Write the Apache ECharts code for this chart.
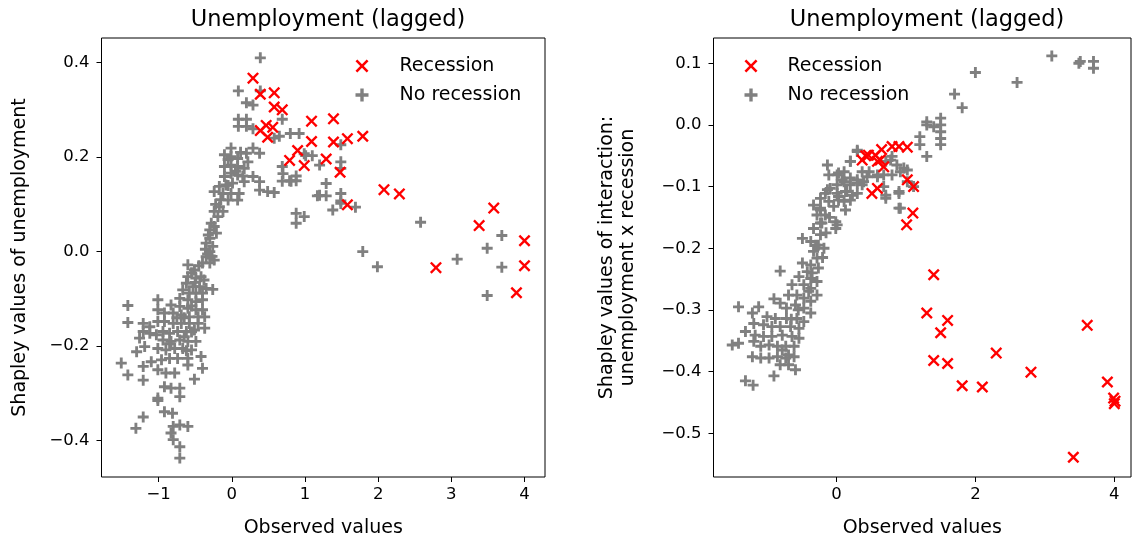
<!DOCTYPE html>
<html>
<head>
<meta charset="utf-8">
<script src="https://cdn.jsdelivr.net/npm/echarts@6/dist/echarts.min.js"></script>
<style>
  html, body { margin: 0; padding: 0; background: #fff; }
  #chart { width: 1134px; height: 537px; }
</style>
</head>
<body>
<div id="chart"></div>
<script>
// tick values
const leftXTicks = [-1, 0, 1, 2, 3, 4]
const leftYTicks = [-0.4, -0.2, 0.0, 0.2, 0.4]
const rightXTicks = [0, 2, 4]
const rightYTicks = [-0.5, -0.4, -0.3, -0.2, -0.1, 0.0, 0.1]

// left panel: Shapley values of unemployment
const leftRecession = [
  [0.29, 0.367], [0.39, 0.333], [0.58, 0.336], [0.58, 0.306], [0.69, 0.300],
  [0.39, 0.256], [0.47, 0.267], [0.56, 0.263], [0.49, 0.242], [1.09, 0.276],
  [1.39, 0.281], [1.09, 0.233], [1.39, 0.232], [1.58, 0.239], [1.79, 0.244],
  [0.90, 0.214], [0.79, 0.193], [0.99, 0.182], [1.29, 0.196], [1.48, 0.168],
  [1.58, 0.099], [2.08, 0.131], [2.29, 0.122], [3.58, 0.092], [3.38, 0.055],
  [4.00, 0.023], [4.00, -0.030], [2.79, -0.034], [3.89, -0.087]
]
const leftNoRecession = [
  [0.39, 0.41], [0.39, 0.34], [0.09, 0.34], [0.20, 0.315], [0.29, 0.31],
  [0.09, 0.28], [0.20, 0.28], [0.09, 0.265], [0.20, 0.265], [0.29, 0.26],
  [0.69, 0.28], [0.80, 0.25], [0.65, 0.244], [0.58, 0.24], [0.92, 0.25],
  [0.99, 0.207], [1.01, 0.203], [1.10, 0.203], [1.49, 0.226], [1.49, 0.19],
  [1.49, 0.176], [1.20, 0.183], [1.29, 0.144], [1.29, 0.118], [1.17, 0.118],
  [1.20, 0.119], [1.49, 0.123], [1.49, 0.102], [1.49, 0.107], [1.38, 0.088],
  [1.69, 0.094], [0.88, 0.081], [0.99, 0.074], [0.88, 0.06], [0.69, 0.18],
  [0.69, 0.149], [0.70, 0.165], [0.79, 0.15], [0.88, 0.16], [0.81, 0.149],
  [0.88, 0.15], [2.58, 0.062], [1.79, 0.0], [1.99, -0.032], [3.08, -0.016],
  [3.49, 0.007], [3.69, 0.034], [3.69, -0.033], [3.49, -0.093],
  [-0.01, 0.219], [-0.10, 0.205], [-0.01, 0.201], [0.08, 0.197], [0.20, 0.208],
  [0.29, 0.219], [0.38, 0.208], [0.22, 0.19], [-0.01, 0.183], [-0.10, 0.18],
  [0.08, 0.18], [0.17, 0.176], [-0.01, 0.166], [0.08, 0.162], [-0.10, 0.159],
  [0.29, 0.159], [0.38, 0.148], [0.17, 0.148], [0.01, 0.145], [-0.08, 0.141],
  [-0.17, 0.138], [-0.24, 0.127], [-0.12, 0.123], [-0.01, 0.123], [0.10, 0.123],
  [0.38, 0.13], [0.49, 0.127], [0.58, 0.125], [0.08, 0.109], [-0.05, 0.109],
  [-0.17, 0.095], [-0.24, 0.085], [-0.12, 0.085], [-0.19, 0.074], [-0.24, 0.053],
  [-0.30, 0.046], [-0.21, 0.039], [-0.30, 0.028], [-0.35, 0.018], [-0.26, 0.011],
  [-0.30, 0.0], [-0.35, -0.011], [-0.24, -0.018], [-0.40, -0.024], [-0.30, -0.024],
  [-0.32, 0.035], [-0.28, 0.06], [-0.22, 0.10], [-0.15, 0.11], [-0.05, 0.14],
  [0.05, 0.17], [-0.05, 0.195], [0.12, 0.21], [0.15, 0.16], [-0.33, -0.005],
  [-0.36, 0.005], [-0.27, -0.01],
  [-0.60, -0.028], [-0.51, -0.039], [-0.60, -0.053], [-0.49, -0.056], [-0.42, -0.053],
  [-0.62, -0.067], [-0.53, -0.074], [-0.44, -0.074], [-0.35, -0.078], [-0.26, -0.08],
  [-0.67, -0.081], [-0.58, -0.088], [-0.49, -0.088], [-0.40, -0.088], [-0.71, -0.099],
  [-0.60, -0.102], [-0.49, -0.106], [-0.40, -0.102], [-1.01, -0.102], [-0.83, -0.113],
  [-0.71, -0.116], [-0.60, -0.12], [-0.49, -0.123], [-0.40, -0.123], [-1.01, -0.123],
  [-0.92, -0.13], [-0.80, -0.13], [-0.69, -0.134], [-0.58, -0.138], [-0.46, -0.138],
  [-0.37, -0.138], [-1.42, -0.114], [-1.42, -0.15], [-1.21, -0.152], [-1.12, -0.159],
  [-1.01, -0.148], [-0.92, -0.148], [-0.80, -0.152], [-0.69, -0.152], [-0.58, -0.152],
  [-0.46, -0.152], [-0.37, -0.162], [-1.21, -0.169], [-1.12, -0.173], [-1.03, -0.176],
  [-0.94, -0.169], [-0.85, -0.173], [-0.74, -0.169], [-0.62, -0.169], [-0.51, -0.166],
  [-1.26, -0.183], [-0.94, -0.187], [-0.83, -0.19], [-0.71, -0.187], [-0.60, -0.19],
  [-0.49, -0.19], [-1.30, -0.212], [-1.19, -0.201], [-1.01, -0.205], [-0.90, -0.208],
  [-0.78, -0.205], [-0.67, -0.205], [-0.55, -0.208], [-1.51, -0.236], [-1.21, -0.243],
  [-1.10, -0.233], [-0.96, -0.229], [-0.85, -0.226], [-0.74, -0.226], [-0.60, -0.226],
  [-0.42, -0.222], [-0.40, -0.247], [-1.42, -0.261], [-1.21, -0.272], [-1.01, -0.25],
  [-0.90, -0.257], [-0.78, -0.257], [-0.60, -0.24], [-0.51, -0.27], [-0.92, -0.286],
  [-0.83, -0.289], [-0.71, -0.289], [-1.01, -0.31], [-1.01, -0.315], [-0.71, -0.307],
  [-1.21, -0.35], [-0.92, -0.339], [-0.81, -0.342], [-1.31, -0.374], [-0.80, -0.37],
  [-0.71, -0.367], [-0.60, -0.37], [-0.80, -0.398], [-0.71, -0.413], [-0.71, -0.437],
  [-0.83, -0.384], [-0.55, -0.045], [-0.45, -0.03], [-0.50, -0.065], [-0.38, -0.06],
  [-0.55, -0.115], [-0.65, -0.14], [-0.75, -0.14], [-0.55, -0.17], [-0.65, -0.18],
  [-0.85, -0.195], [-0.62, -0.21]
]

// right panel: interaction unemployment x recession
const rightRecession = [
  [0.37, -0.057], [0.46, -0.049], [0.56, -0.049], [0.59, -0.059], [0.80, -0.035],
  [0.90, -0.035], [1.02, -0.036], [0.68, -0.068], [0.51, -0.111], [0.59, -0.103],
  [1.02, -0.089], [1.11, -0.100], [1.10, -0.143], [1.01, -0.162], [1.40, -0.243],
  [1.30, -0.305], [1.60, -0.317], [1.50, -0.337], [1.40, -0.382], [1.60, -0.387],
  [1.81, -0.423], [2.10, -0.425], [2.30, -0.370], [2.80, -0.401], [3.61, -0.325],
  [3.90, -0.417], [3.99, -0.443], [4.01, -0.448], [4.00, -0.452], [3.41, -0.539],
  [0.42, -0.050], [0.65, -0.040], [0.63, -0.057]
]
const rightNoRecession = [
  [3.10, 0.112], [3.49, 0.100], [3.51, 0.103], [3.70, 0.103], [3.70, 0.092],
  [2.00, 0.085], [2.60, 0.069], [1.70, 0.050], [1.81, 0.028], [1.50, 0.011],
  [1.50, 0.0], [1.50, -0.011], [1.50, -0.022], [1.50, -0.032], [1.30, 0.0],
  [1.40, -0.003], [1.30, 0.005], [1.20, -0.019], [1.20, -0.032], [1.30, -0.051],
  [0.30, -0.041], [0.20, -0.059], [0.78, -0.057], [0.87, -0.065], [0.97, -0.070],
  [0.68, -0.081], [0.59, -0.084], [0.80, -0.081], [0.47, -0.076], [0.37, -0.076],
  [0.39, -0.092], [0.68, -0.100], [0.71, -0.114], [0.90, -0.108], [0.92, -0.135],
  [1.02, -0.092], [-0.13, -0.065], [-0.11, -0.081], [0.01, -0.081], [0.11, -0.076],
  [0.20, -0.086], [0.30, -0.089], [0.11, -0.092], [0.20, -0.097], [0.01, -0.097],
  [-0.09, -0.103], [0.13, -0.108], [0.23, -0.114], [0.03, -0.116], [-0.16, -0.111],
  [-0.23, -0.119], [-0.11, -0.124], [0.11, -0.124], [-0.23, -0.135], [-0.33, -0.130],
  [-0.28, -0.146], [-0.16, -0.146], [-0.01, -0.157], [-0.01, -0.168], [-0.21, -0.159],
  [-0.33, -0.168], [-0.23, -0.178], [-0.49, -0.184], [-0.37, -0.189], [-0.26, -0.195],
  [-0.18, -0.200], [-0.33, -0.205], [-0.28, -0.216], [-0.37, -0.227], [-0.49, -0.224],
  [-0.81, -0.237], [-0.26, -0.232], [-0.42, -0.238], [-0.54, -0.246], [-0.37, -0.249],
  [-0.28, -0.254], [-0.47, -0.259], [-0.64, -0.259], [-0.37, -0.265], [-0.28, -0.276],
  [-0.57, -0.276], [-0.69, -0.276], [-0.90, -0.282], [-0.47, -0.281], [-0.37, -0.286],
  [-0.81, -0.289], [-0.59, -0.292], [-0.47, -0.297], [-0.72, -0.297], [-1.12, -0.295],
  [-1.41, -0.295], [-1.21, -0.305], [-0.37, -0.305], [-1.00, -0.311], [-0.88, -0.314],
  [-0.72, -0.314], [-0.57, -0.314], [-0.47, -0.319], [-1.19, -0.322], [-1.05, -0.324],
  [-0.93, -0.327], [-0.81, -0.327], [-0.66, -0.327], [-0.54, -0.330], [-1.31, -0.335],
  [-1.17, -0.341], [-1.05, -0.343], [-0.93, -0.343], [-0.78, -0.341], [-0.64, -0.343],
  [-0.54, -0.346], [-1.19, -0.351], [-1.50, -0.357], [-1.41, -0.354], [-1.09, -0.359],
  [-0.97, -0.357], [-0.85, -0.359], [-0.73, -0.359], [-0.61, -0.359], [-1.21, -0.376],
  [-1.09, -0.378], [-0.97, -0.378], [-0.85, -0.376], [-0.73, -0.378], [-0.61, -0.376],
  [-0.81, -0.389], [-0.69, -0.389], [-0.59, -0.397], [-0.90, -0.407], [-1.31, -0.415],
  [-1.20, -0.422], [-0.69, -0.373], [-0.78, -0.365],
  [0.30, -0.043], [0.20, -0.059], [0.71, -0.059], [0.80, -0.051], [0.92, -0.076],
  [1.02, -0.073], [1.11, -0.100], [0.90, -0.111], [0.71, -0.119], [0.90, -0.135],
  [0.03, -0.078], [0.08, -0.089], [0.30, -0.094], [0.44, -0.084], [0.59, -0.081],
  [-0.13, -0.105], [0.01, -0.111], [0.15, -0.108], [0.30, -0.111], [0.37, -0.097],
  [0.03, -0.122], [0.20, -0.122], [-0.23, -0.138], [-0.04, -0.132], [0.13, -0.138],
  [-0.23, -0.159], [0.01, -0.162], [-0.10, -0.150], [-0.15, -0.175], [-0.30, -0.195],
  [-0.20, -0.215], [-0.35, -0.240], [-0.40, -0.270], [-0.55, -0.300], [-0.65, -0.315]
]

const plusIcon = 'path://M0.37,0H0.63V0.37H1V0.63H0.63V1H0.37V0.63H0V0.37H0.37Z'
const crossIcon = 'path://M0,0.14L0.14,0L0.5,0.36L0.86,0L1,0.14L0.64,0.5L1,0.86L0.86,1L0.5,0.64L0.14,1L0,0.86L0.36,0.5Z'

const font = 'DejaVu Sans'
const minus = v => String(Number(v.toFixed(1))).replace('-', '\u2212')
const fmt1 = v => minus(v).indexOf('.') < 0 ? minus(v) + '.0' : minus(v)

function xAxis(gridIndex, min, max, ticks) {
  return {
    type: 'value', gridIndex, min, max,
    name: 'Observed values', nameLocation: 'middle', nameGap: 42,
    nameTextStyle: { fontFamily: font, fontSize: 19, color: '#000' },
    axisLine: { show: false, onZero: false },
    splitLine: { show: false },
    axisTick: { show: true, length: 5, customValues: ticks, lineStyle: { color: '#000' } },
    axisLabel: { customValues: ticks, margin: 9, fontFamily: font, fontSize: 16.5, color: '#000',
      formatter: v => minus(v) }
  }
}

function yAxis(gridIndex, min, max, ticks, name, nameGap) {
  return {
    type: 'value', gridIndex, min, max,
    name, nameLocation: 'middle', nameGap,
    nameTextStyle: { fontFamily: font, fontSize: 19, color: '#000', lineHeight: 21 },
    axisLine: { show: false, onZero: false },
    splitLine: { show: false },
    axisTick: { show: true, length: 5, customValues: ticks, lineStyle: { color: '#000' } },
    axisLabel: { customValues: ticks, margin: 12, fontFamily: font, fontSize: 16.5, color: '#000',
      formatter: v => fmt1(v) }
  }
}

function legend(left, top, pad) {
  return {
    orient: 'vertical', left, top, itemGap: 10, itemWidth: 13, itemHeight: 13,
    selectedMode: false,
    textStyle: { fontFamily: font, fontSize: 19, color: '#000', padding: [0, 0, 0, pad] },
    data: [{ name: 'Recession', icon: crossIcon }, { name: 'No recession', icon: plusIcon }]
  }
}

const chart = echarts.init(document.getElementById('chart'), null, { renderer: 'canvas' })
chart.setOption({
  animation: false,
  title: [
    { text: 'Unemployment (lagged)', left: 323, top: 4, textAlign: 'center',
      textStyle: { fontFamily: font, fontSize: 22.5, fontWeight: 'normal', color: '#000' } },
    { text: 'Unemployment (lagged)', left: 922, top: 4, textAlign: 'center',
      textStyle: { fontFamily: font, fontSize: 22.5, fontWeight: 'normal', color: '#000' } }
  ],
  legend: [legend(350.5, 51.5, 26), legend(739.5, 51.5, 25)],
  grid: [
    { left: 101.5, top: 38, width: 443.5, height: 439, outerBoundsMode: 'none',
      show: true, borderColor: '#000', borderWidth: 1 },
    { left: 713.5, top: 38, width: 417.5, height: 439, outerBoundsMode: 'none',
      show: true, borderColor: '#000', borderWidth: 1 }
  ],
  xAxis: [
    xAxis(0, -1.78, 4.28, leftXTicks),
    xAxis(1, -1.77, 4.24, rightXTicks)
  ],
  yAxis: [
    yAxis(0, -0.477, 0.452, leftYTicks, 'Shapley values of unemployment', 71),
    yAxis(1, -0.571, 0.141, rightYTicks, 'Shapley values of interaction:\nunemployment x recession', 75)
  ],
  series: [
    { name: 'No recession', type: 'scatter', xAxisIndex: 0, yAxisIndex: 0, data: leftNoRecession,
      symbol: plusIcon, symbolSize: 11, itemStyle: { color: '#808080', opacity: 1 }, z: 2 },
    { name: 'Recession', type: 'scatter', xAxisIndex: 0, yAxisIndex: 0, data: leftRecession,
      symbol: crossIcon, symbolSize: 12, itemStyle: { color: '#ff0000', opacity: 1 }, z: 3 },
    { name: 'No recession', type: 'scatter', xAxisIndex: 1, yAxisIndex: 1, data: rightNoRecession,
      symbol: plusIcon, symbolSize: 11, itemStyle: { color: '#808080', opacity: 1 }, z: 2 },
    { name: 'Recession', type: 'scatter', xAxisIndex: 1, yAxisIndex: 1, data: rightRecession,
      symbol: crossIcon, symbolSize: 12, itemStyle: { color: '#ff0000', opacity: 1 }, z: 3 }
  ]
})
</script>
</body>
</html>
